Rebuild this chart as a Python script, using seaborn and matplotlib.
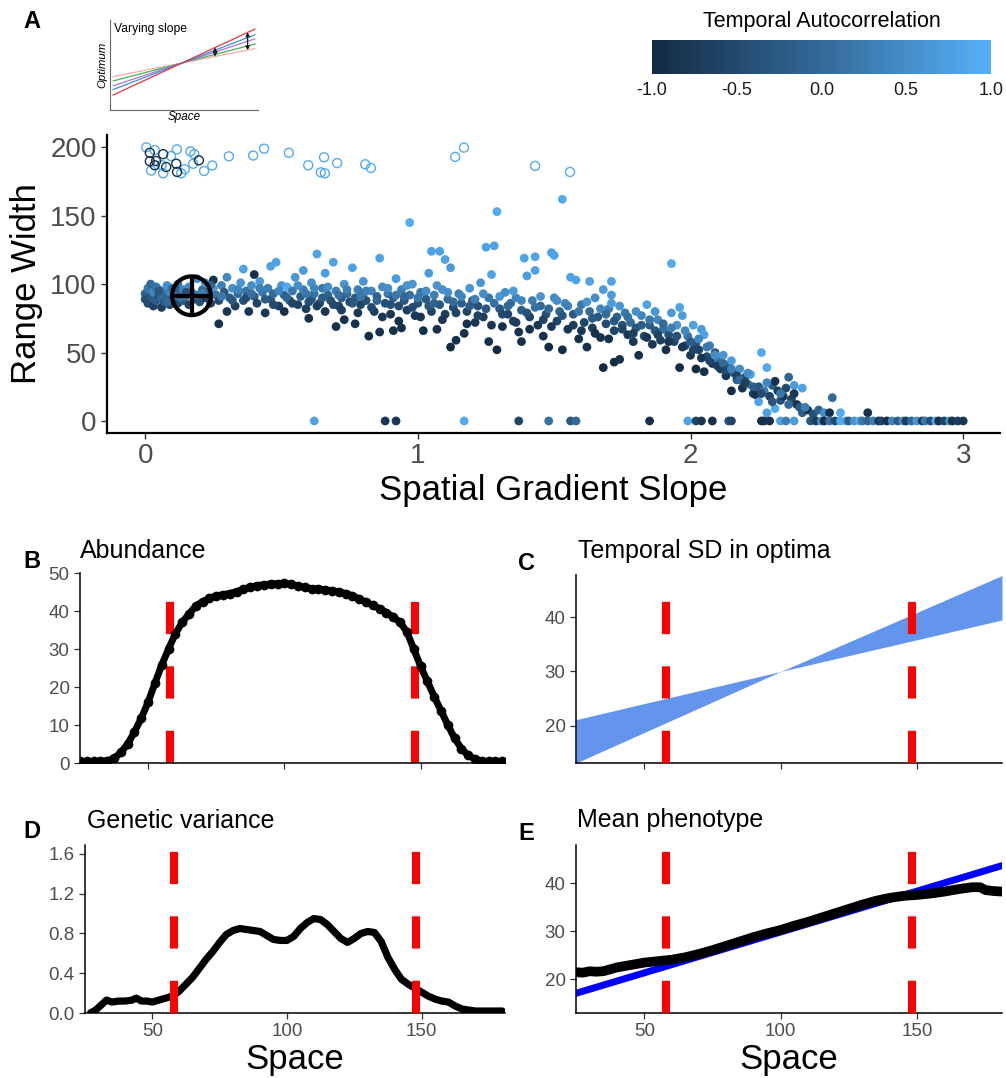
import numpy as np
import pandas as pd
import matplotlib
matplotlib.use("Agg")
import matplotlib.pyplot as plt
from matplotlib.colors import LinearSegmentedColormap, Normalize
from matplotlib.cm import ScalarMappable
import seaborn as sns

sns.set_style("ticks")
plt.rcParams["font.family"] = ["Liberation Sans", "DejaVu Sans"]
plt.rcParams["text.color"] = "black"
plt.rcParams["axes.labelcolor"] = "black"
plt.rcParams["axes.edgecolor"] = "black"

# ---------------- panel A data ----------------
# main cloud, slope 0 - 0.75
slope_1 = [0.00, 0.00, 0.01, 0.01, 0.02, 0.02, 0.03, 0.03, 0.04, 0.04, 0.05, 0.05, 0.06, 0.06, 0.07, 0.07,
           0.08, 0.08, 0.09, 0.09, 0.10, 0.10, 0.11, 0.12, 0.12, 0.13, 0.14, 0.14, 0.15, 0.16, 0.16, 0.17,
           0.18, 0.19, 0.19, 0.20, 0.21, 0.22, 0.22, 0.23, 0.24, 0.25, 0.25, 0.26, 0.27, 0.27, 0.28, 0.29,
           0.30, 0.30, 0.31, 0.32, 0.33, 0.34, 0.35, 0.36, 0.36, 0.37, 0.38, 0.39, 0.40, 0.40, 0.41, 0.42,
           0.43, 0.44, 0.45, 0.46, 0.46, 0.47, 0.48, 0.49, 0.50, 0.51, 0.51, 0.52, 0.53, 0.54, 0.55, 0.56,
           0.57, 0.58, 0.58, 0.59, 0.60, 0.61, 0.61, 0.62, 0.63, 0.64, 0.65, 0.66, 0.66, 0.67, 0.68, 0.69,
           0.70, 0.70, 0.71, 0.72, 0.73, 0.73, 0.74, 0.75]
width_1 = [93, 89, 97, 86, 100, 91, 94, 84, 98, 88, 92, 96, 90, 83, 95, 87,
           99, 91, 85, 94, 97, 89, 92, 86, 100, 93, 88, 96, 91, 85, 98, 94,
           89, 104, 92, 87, 96, 90, 101, 94, 86, 97, 103, 92, 71, 88, 99, 94,
           105, 80, 90, 97, 84, 93, 101, 111, 88, 95, 80, 99, 107, 91, 86, 102,
           94, 79, 97, 113, 89, 93, 116, 84, 99, 80, 92, 98, 88, 95, 105, 85,
           91, 110, 96, 82, 75, 101, 89, 93, 122, 86, 97, 108, 80, 92, 88, 116,
           69, 95, 84, 90, 74, 100, 93, 87]
autocorr_1 = [-0.1, -0.4, 0.2, -0.5, 0.0, -0.3, 0.4, -0.6, 0.1, -0.2, -0.4, 0.3, 0.0, -0.7, 0.2, -0.3,
              0.5, -0.1, -0.6, 0.3, 0.0, -0.4, 0.6, -0.5, 0.2, -0.2, -0.3, 0.4, 0.1, -0.6, 0.5, -0.1,
              -0.5, 0.5, 0.2, -0.4, 0.0, -0.7, 0.6, -0.2, -0.6, 0.7, -0.9, 0.1, -0.9, -0.5, 0.3, -0.3,
              0.4, -0.8, -0.2, 0.5, -0.7, 0.0, 0.6, 0.8, -0.4, 0.1, -0.8, 0.5, -0.9, -0.2, -0.6, 0.7,
              0.2, -0.8, 0.3, 0.8, -0.3, 0.0, 0.8, -0.7, 0.6, -0.9, -0.1, 0.9, -0.4, 0.2, 0.6, -0.6,
              -0.2, 0.7, 0.3, -0.7, -0.9, 0.5, -0.3, 0.1, 0.8, -0.5, 0.2, 0.7, -0.8, -0.1, -0.4, 0.8,
              -0.9, 0.3, -0.6, -0.2, -0.9, 0.6, 0.0, -0.5]

# main cloud, slope 0.75 - 1.55
slope_2 = [0.76, 0.77, 0.77, 0.78, 0.79, 0.80, 0.80, 0.81, 0.82, 0.83, 0.84, 0.85, 0.86, 0.86, 0.87, 0.88,
           0.89, 0.90, 0.91, 0.91, 0.92, 0.93, 0.94, 0.94, 0.95, 0.96, 0.97, 0.97, 0.98, 0.99, 1.00, 1.01,
           1.02, 1.03, 1.04, 1.05, 1.05, 1.06, 1.07, 1.08, 1.08, 1.09, 1.10, 1.10, 1.11, 1.12, 1.12, 1.13,
           1.14, 1.15, 1.16, 1.17, 1.18, 1.19, 1.20, 1.21, 1.22, 1.23, 1.24, 1.25, 1.26, 1.26, 1.27, 1.28,
           1.29, 1.29, 1.30, 1.31, 1.32, 1.33, 1.34, 1.35, 1.36, 1.37, 1.38, 1.38, 1.39, 1.40, 1.41, 1.42,
           1.43, 1.43, 1.44, 1.45, 1.46, 1.47, 1.48, 1.49, 1.50, 1.50, 1.51, 1.52, 1.53, 1.53, 1.54, 1.55]
width_2 = [112, 71, 90, 96, 85, 93, 102, 88, 62, 95, 80, 91, 119, 65, 98, 86,
           93, 78, 66, 90, 104, 84, 68, 96, 88, 81, 145, 92, 100, 77, 86, 94,
           66, 89, 108, 124, 80, 92, 67, 124, 85, 96, 118, 78, 89, 54, 112, 83,
           59, 93, 86, 64, 80, 97, 88, 72, 84, 101, 76, 127, 58, 90, 107, 128,
           52, 153, 82, 69, 94, 78, 86, 73, 90, 65, 58, 81, 119, 106, 76, 88,
           120, 110, 70, 84, 62, 78, 54, 123, 121, 90, 73, 80, 52, 162, 86, 67]
autocorr_2 = [0.8, -0.9, -0.2, 0.3, -0.6, 0.1, 0.6, -0.4, -1.0, 0.4, -0.7, -0.1, 0.8, -0.9, 0.5, -0.4,
              0.2, -0.8, -0.9, -0.1, 0.7, -0.5, -0.9, 0.3, -0.3, -0.7, 0.9, 0.1, 0.6, -0.8, -0.4, 0.2,
              -0.9, -0.2, 0.7, 0.8, -0.6, 0.3, -0.9, 0.8, -0.3, 0.5, 0.8, -0.7, 0.0, -1.0, 0.7, -0.5,
              -0.9, 0.3, -0.2, -0.9, -0.6, 0.6, -0.1, -0.8, -0.4, 0.6, -0.7, 0.8, -0.9, 0.2, 0.8, 0.8,
              -1.0, 0.9, -0.3, -0.9, 0.5, -0.6, 0.0, -0.7, 0.4, -0.9, -0.9, -0.2, 0.8, 0.7, -0.6, 0.3,
              0.8, 0.8, -0.8, 0.0, -0.9, -0.4, -1.0, 0.8, 0.8, 0.5, -0.6, -0.1, -1.0, 0.9, 0.4, -0.8]

# main cloud, slope 1.55 - 2.65
slope_3 = [1.56, 1.57, 1.58, 1.59, 1.60, 1.61, 1.62, 1.63, 1.63, 1.64, 1.65, 1.66, 1.67, 1.68, 1.68, 1.69,
           1.70, 1.71, 1.71, 1.71, 1.72, 1.72, 1.73, 1.74, 1.75, 1.76, 1.77, 1.78, 1.79, 1.80, 1.81, 1.82,
           1.83, 1.84, 1.85, 1.86, 1.87, 1.88, 1.89, 1.90, 1.91, 1.92, 1.93, 1.93, 1.94, 1.95, 1.96, 1.96,
           1.97, 1.98, 1.99, 2.00, 2.01, 2.02, 2.02, 2.03, 2.04, 2.05, 2.05, 2.06, 2.07, 2.08, 2.09, 2.10,
           2.11, 2.12, 2.13, 2.14, 2.15, 2.15, 2.16, 2.17, 2.18, 2.19, 2.20, 2.21, 2.22, 2.23, 2.24, 2.25,
           2.25, 2.26, 2.27, 2.28, 2.28, 2.29, 2.30, 2.31, 2.31, 2.32, 2.33, 2.34, 2.35, 2.36, 2.37, 2.38,
           2.39, 2.40, 2.41, 2.41, 2.43, 2.45, 2.47, 2.49, 2.51, 2.52, 2.55, 2.65]
width_3 = [105, 78, 103, 60, 85, 72, 54, 102, 80, 68, 90, 76, 61, 96, 39, 71,
           82, 102, 92, 86, 43, 66, 76, 45, 70, 79, 63, 72, 58, 68, 48, 77,
           62, 85, 70, 56, 66, 74, 59, 67, 52, 63, 115, 79, 58, 70, 39, 83,
           77, 55, 62, 48, 70, 38, 57, 52, 67, 36, 63, 47, 55, 42, 50, 45,
           38, 48, 33, 40, 22, 44, 35, 30, 38, 24, 32, 27, 34, 20, 19, 25,
           14, 50, 22, 39, 6, 18, 26, 9, 29, 22, 15, 18, 24, 32, 16, 26,
           12, 10, 24, 6, 8, 5, 8, 6, 6, 17, 6, 6]
autocorr_3 = [0.8, -0.3, 0.8, -0.9, 0.2, -0.6, -0.9, 0.8, 0.0, -0.7, 0.5, -0.3, -0.9, 0.7, -1.0, -0.5,
              0.3, 0.8, 0.7, 0.7, -1.0, -0.6, -0.1, -0.9, -0.4, 0.2, -0.8, 0.0, -0.8, -0.3, -0.9, 0.4,
              -0.5, 0.8, -0.2, -0.8, -0.3, 0.4, -0.7, 0.1, -0.9, -0.4, 0.9, 0.7, -0.6, 0.6, -1.0, 0.8,
              0.7, -0.5, 0.2, -0.8, 0.8, -1.0, -0.3, -0.6, 0.7, -0.9, 0.8, -0.5, 0.3, -0.8, -0.2, 0.1,
              -0.7, 0.6, -0.8, -0.3, -1.0, 0.7, -0.5, -0.2, 0.5, -0.9, -0.4, 0.1, 0.8, -0.7, -0.9, -0.3,
              0.8, 0.9, 0.2, 0.9, 0.8, -0.6, -0.2, 0.9, -0.9, -0.7, -0.4, -0.8, -0.5, -0.1, -0.6, 0.7,
              -0.9, -0.3, 0.8, -0.2, -0.9, -0.4, -0.1, 0.5, -0.9, 0.0, 0.9, -0.9]

# denser middle of the cloud
slope_4 = [0.05, 0.08, 0.11, 0.13, 0.15, 0.21, 0.24, 0.28, 0.32, 0.34, 0.37, 0.39, 0.42, 0.44, 0.47, 0.49,
           0.52, 0.54, 0.56, 0.59, 0.60, 0.62, 0.63, 0.65, 0.67, 0.69, 0.71, 0.72, 0.74, 0.76, 0.78, 0.79,
           0.81, 0.83, 0.85, 0.87, 0.89, 0.90, 0.92, 0.93, 0.95, 0.96, 0.98, 1.00, 1.01, 1.03, 1.04, 1.06,
           1.07, 1.09, 1.11, 1.13, 1.14, 1.16, 1.18, 1.19, 1.21, 1.22, 1.24, 1.25, 1.27, 1.28, 1.30, 1.31,
           1.33, 1.35, 1.36, 1.38, 1.40, 1.41, 1.43, 1.45, 1.46, 1.48, 1.49, 1.51, 1.53, 1.55, 1.57, 1.59,
           1.60, 1.62, 1.64, 1.65, 1.67, 1.69, 1.70, 1.72, 1.74, 1.75, 1.77, 1.79, 1.80, 1.82, 1.84, 1.85,
           1.87, 1.88, 1.90, 1.92, 1.93, 1.95, 1.97, 1.98, 2.00, 2.01, 2.03, 2.04, 2.06, 2.07, 2.09, 2.10,
           2.12, 2.13, 2.15, 2.17, 2.18, 2.20, 2.21, 2.23, 2.26, 2.28, 2.30, 2.33, 2.36, 2.38, 2.42]
width_4 = [95, 87, 97, 90, 94, 93, 99, 91, 88, 96, 90, 93, 97, 89, 85, 95,
           90, 86, 99, 93, 87, 97, 84, 90, 98, 85, 92, 81, 96, 86, 79, 91,
           95, 83, 88, 76, 97, 85, 92, 73, 91, 99, 83, 90, 76, 95, 84, 86,
           99, 74, 94, 87, 79, 91, 71, 84, 89, 77, 93, 82, 70, 86, 91, 78,
           84, 95, 72, 88, 79, 67, 83, 91, 74, 82, 69, 88, 77, 84, 70, 80,
           66, 87, 75, 64, 82, 78, 60, 73, 84, 67, 76, 64, 80, 70, 61, 74,
           80, 63, 71, 58, 68, 62, 54, 66, 58, 52, 60, 46, 54, 44, 48, 40,
           42, 37, 38, 33, 30, 28, 35, 25, 20, 28, 14, 20, 12, 20, 10]
autocorr_4 = [-0.3, 0.0, -0.2, 0.1, -0.4, 0.3, -0.1, 0.2, -0.3, 0.4, -0.5, 0.1, 0.3, -0.2, -0.5, 0.4,
              -0.1, -0.6, 0.5, 0.2, -0.4, 0.4, -0.7, -0.2, 0.5, -0.5, 0.1, -0.7, 0.3, -0.3, -0.8, 0.2,
              0.3, -0.5, -0.1, -0.8, 0.5, -0.4, 0.2, -0.9, 0.0, 0.6, -0.5, 0.2, -0.8, 0.5, -0.3, -0.1,
              0.6, -0.8, 0.5, 0.0, -0.6, 0.4, -0.9, -0.2, 0.3, -0.6, 0.5, -0.3, -0.8, 0.1, 0.6, -0.5,
              0.0, 0.7, -0.7, 0.4, -0.4, -0.9, 0.1, 0.6, -0.6, 0.0, -0.8, 0.5, -0.3, 0.3, -0.7, 0.2,
              -0.8, 0.6, -0.2, -0.9, 0.4, 0.0, -0.9, -0.3, 0.6, -0.6, 0.1, -0.7, 0.5, -0.2, -0.8, 0.2,
              0.6, -0.6, 0.0, -0.8, 0.3, -0.4, -0.8, 0.4, -0.2, -0.6, 0.4, -0.8, 0.2, -0.6, 0.5, -0.7,
              0.0, -0.5, 0.3, -0.6, 0.0, -0.7, 0.5, -0.2, -0.5, 0.4, -0.3, 0.2, 0.0, -0.8, 0.3]

# populations that went extinct (range width 0)
zero_slope = [0.62, 0.88, 0.92, 1.17, 1.37, 1.48, 1.56, 1.58, 1.85, 1.99, 2.02, 2.04, 2.08, 2.14, 2.15,
              2.26, 2.27, 2.29, 2.33, 2.35, 2.38, 2.44, 2.46, 2.48, 2.49, 2.51, 2.53, 2.55, 2.57, 2.58,
              2.60, 2.62, 2.63, 2.65, 2.67, 2.69, 2.70, 2.72, 2.74, 2.76, 2.78, 2.79, 2.81, 2.83, 2.85,
              2.86, 2.88, 2.90, 2.91, 2.93, 2.95, 2.96, 2.98, 3.00]
zero_autocorr = [0.8, -0.8, -0.8, 0.9, -0.6, 0.1, -0.3, 0.0, -0.9, 0.8, -0.6, -0.8, -0.9, -0.4, -0.6,
                 -0.9, -0.9, -0.9, 0.8, 0.3, 0.7, -0.3, -0.7, 0.5, -0.9, 0.1, -0.5, 0.9, 0.8, -0.2,
                 0.6, 0.9, 0.2, -0.1, 0.3, -0.8, -0.6, -0.9, 0.4, -0.2, 0.5, -0.7, 0.0, 0.6, -0.8,
                 0.2, -0.4, 0.9, -0.9, -0.6, 0.5, -0.9, -0.7, -0.8]

# ranges that filled the whole landscape (open circles)
open_slope = [0.004, 0.035, 0.116, 0.166, 0.18, 0.095, 0.022, 0.06, 0.066, 0.132, 0.145, 0.176, 0.216,
              0.246, 0.307, 0.396, 0.436, 0.527, 0.598, 0.656, 0.704, 0.644, 0.659, 0.807, 0.828, 1.137,
              1.169, 1.43, 1.558,
              0.017, 0.066, 0.197, 0.017, 0.04, 0.035, 0.077, 0.114, 0.117]
open_width = [200, 198, 198.5, 197, 195, 193.6, 183, 187, 181, 181, 184, 188, 182.7,
              186.7, 193.4, 194, 199, 196, 186.9, 192.7, 188.5, 181.7, 181, 187.6, 184.9, 193,
              199.8, 186.4, 182,
              196, 195, 190.5, 189.8, 190, 186.9, 185.6, 188, 182]
open_autocorr = [0.9] * 29 + [-0.9] * 9

# scenario shown in panels B-E
ref_slope = [0.17]
ref_width = [91.5]

# ---------------- panels B-E data ----------------
vline_space = [58, 148]

space_b = [25, 27.5, 30, 32.5, 35, 37.5, 40, 42.5, 45, 47.5, 50, 52.5, 55, 57.5, 60, 62.5, 65, 67.5,
           70, 72.5, 75, 77.5, 80, 82.5, 85, 87.5, 90, 92.5, 95, 97.5, 100, 102.5, 105, 107.5, 110,
           112.5, 115, 117.5, 120, 122.5, 125, 127.5, 130, 132.5, 135, 137.5, 140, 142.5, 145, 147.5,
           150, 152.5, 155, 157.5, 160, 162.5, 165, 167.5, 170, 172.5, 175, 177.5, 180]
abundance = [0.4, 0.4, 0.4, 0.5, 0.6, 1.2, 2.8, 5.0, 8.2, 11.8, 16.0, 21.0, 25.8, 30.0, 34.0, 37.0,
             39.2, 41.3, 42.5, 43.3, 44.0, 44.3, 44.6, 45.1, 45.7, 46.3, 46.7, 46.9, 47.1, 47.2, 47.3,
             47.0, 46.6, 46.2, 45.9, 45.8, 45.6, 45.3, 45.1, 44.6, 44.0, 43.2, 42.3, 41.5, 40.6, 39.6,
             38.4, 37.0, 34.5, 30.0, 25.5, 21.5, 17.5, 13.8, 10.0, 6.5, 3.8, 2.0, 1.0, 0.5, 0.4, 0.4, 0.4]

space_c = [25, 100, 181]
sd_lower = [13.1, 30.0, 39.5]
sd_upper = [21.1, 30.0, 47.7]

space_d = [27, 29, 31, 33, 35, 37.5, 40, 42.5, 44, 46, 48, 50, 52.5, 55, 57.5, 60, 62.5, 65, 67.5, 70,
           72.5, 75, 77.5, 80, 82.5, 85, 87.5, 90, 92.5, 95, 97.5, 100, 102.5, 105, 107.5, 110, 112.5,
           115, 117.5, 120, 122.5, 125, 127.5, 130, 132.5, 135, 137.5, 140, 142.5, 145, 147.5, 150,
           152.5, 155, 157.5, 160, 162.5, 165, 167.5, 170, 175, 180]
gen_var = [0.0, 0.03, 0.08, 0.13, 0.11, 0.12, 0.12, 0.13, 0.15, 0.12, 0.12, 0.11, 0.13, 0.15, 0.17,
           0.22, 0.29, 0.36, 0.45, 0.54, 0.62, 0.71, 0.79, 0.83, 0.85, 0.84, 0.83, 0.82, 0.78, 0.74,
           0.73, 0.73, 0.77, 0.85, 0.91, 0.95, 0.94, 0.89, 0.82, 0.75, 0.71, 0.75, 0.80, 0.82, 0.81,
           0.72, 0.56, 0.44, 0.34, 0.29, 0.25, 0.21, 0.17, 0.14, 0.12, 0.11, 0.07, 0.04, 0.03, 0.02,
           0.02, 0.02]

space_e = [25, 27.5, 30, 32.5, 35, 37.5, 40, 45, 50, 55, 60, 65, 70, 75, 80, 85, 90, 95, 100, 105,
           110, 115, 120, 125, 130, 135, 140, 145, 150, 155, 160, 165, 170, 173, 175, 178, 181]
mean_pheno = [21.5, 21.4, 21.7, 21.6, 21.7, 22.1, 22.5, 23.0, 23.5, 23.8, 24.1, 24.6, 25.3, 26.1, 27.0,
              27.9, 28.8, 29.6, 30.3, 31.2, 32.0, 32.9, 33.8, 34.7, 35.6, 36.4, 37.0, 37.4, 37.6, 37.9,
              38.3, 38.8, 39.2, 39.2, 38.6, 38.4, 38.3]
space_opt = [25, 181]
optimum = [17.1, 43.7]

# inset schematic: relative slopes of the optimum lines
inset_slopes = [0.324, 0.428, 0.544, 0.636, 0.765]
inset_colors = ["#F6AAAA", "#4CAF50", "#A678D8", "#3D8FD9", "#E8333C"]

# ---------------- figure ----------------
cmap = LinearSegmentedColormap.from_list("gg", ["#132B43", "#336A98", "#56B1F7"])
norm = Normalize(-1, 1)

df = pd.DataFrame({
    "slope": slope_1 + slope_2 + slope_3 + slope_4 + zero_slope,
    "width": width_1 + width_2 + width_3 + width_4 + [0] * len(zero_slope),
    "autocorr": autocorr_1 + autocorr_2 + autocorr_3 + autocorr_4 + zero_autocorr,
})

fig = plt.figure(figsize=(10.06, 10.78), dpi=100)

def px_axes(l, t, r, b):
    return fig.add_axes([l / 1006, 1 - b / 1078, (r - l) / 1006, (b - t) / 1078])

grey = "#4D4D4D"

# panel A
axA = px_axes(107, 135, 1000, 433)
sns.scatterplot(data=df, x="slope", y="width", hue="autocorr", palette=cmap, hue_norm=norm,
                s=40, linewidth=0, legend=False, ax=axA)
axA.scatter(open_slope, open_width, facecolors="none", edgecolors=cmap(norm(np.array(open_autocorr))),
            s=42, linewidths=1.0)
axA.scatter(ref_slope, ref_width, s=780, facecolors="none", edgecolors="black", linewidths=3.0)
axA.scatter(ref_slope, ref_width, s=780, marker="+", color="black", linewidths=3.0)
axA.set_xlim(-0.14, 3.135)
axA.set_ylim(-8.8, 209)
axA.set_xticks([0, 1, 2, 3])
axA.set_yticks([0, 50, 100, 150, 200])
axA.tick_params(labelsize=20, labelcolor=grey, length=4, width=1, color="#333333")
axA.set_xlabel("Spatial Gradient Slope", fontsize=25, labelpad=3)
axA.set_ylabel("Range Width", fontsize=25, labelpad=5)
for s in ["left", "bottom"]:
    axA.spines[s].set_linewidth(1.6)
sns.despine(ax=axA)

# colorbar
cax = px_axes(652, 40, 991, 74)
sm = ScalarMappable(norm=norm, cmap=cmap)
cb = fig.colorbar(sm, cax=cax, orientation="horizontal")
cb.outline.set_visible(False)
cax.set_xticks([-1, -0.5, 0, 0.5, 1])
cax.set_xticklabels(["-1.0", "-0.5", "0.0", "0.5", "1.0"])
cax.xaxis.set_ticks_position("both")
cax.tick_params(axis="x", direction="in", length=6, width=0.8, color="white",
                labelsize=13, labelcolor="#1A1A1A", labelbottom=True, labeltop=False, pad=6)
cax.set_title("Temporal Autocorrelation", fontsize=15.5, pad=9)

# inset schematic
axI = px_axes(110, 20, 258, 110)
xs = np.array([0.02, 0.98])
for sl, col in zip(inset_slopes, inset_colors):
    axI.plot(xs, 0.522 + sl * (xs - 0.486), color=col, lw=0.9)
for xa in [0.93, 0.71]:
    axI.annotate("", xy=(xa, 0.522 + inset_slopes[-1] * (xa - 0.486)),
                 xytext=(xa, 0.522 + inset_slopes[0] * (xa - 0.486)),
                 arrowprops=dict(arrowstyle="<->", color="black", lw=0.8, mutation_scale=6,
                                 shrinkA=0, shrinkB=0))
axI.set_xlim(0, 1)
axI.set_ylim(0, 1)
axI.set_xticks([])
axI.set_yticks([])
axI.text(0.03, 0.97, "Varying slope", fontsize=8.7, va="top", ha="left")
axI.set_xlabel("Space", fontsize=8.4, style="italic", labelpad=1)
axI.set_ylabel("Optimum", fontsize=8.2, style="italic", labelpad=2)
for s in ["left", "bottom"]:
    axI.spines[s].set_color("#666666")
    axI.spines[s].set_linewidth(0.8)
sns.despine(ax=axI)

# panels B-E
axB = px_axes(80, 573, 505, 763)
axC = px_axes(576, 575, 1002, 763)
axD = px_axes(85, 845, 505, 1013)
axE = px_axes(576, 845, 1002, 1013)


def vlines(ax, z):
    for v in vline_space:
        ax.axvline(v, color="red", lw=5.8, dashes=(4, 4), zorder=z)


vlines(axB, 1)
sns.lineplot(x=space_b, y=abundance, ax=axB, color="black", lw=5, marker="o", markersize=7,
             markeredgewidth=0, zorder=2)
axB.set_ylim(0, 50)
axB.set_yticks([0, 10, 20, 30, 40, 50])

axC.fill_between(space_c, sd_lower, sd_upper, color="#6495ED", lw=0)
vlines(axC, 3)
axC.set_ylim(13.1, 47.8)
axC.set_yticks([20, 30, 40])

sns.lineplot(x=space_d, y=gen_var, ax=axD, color="black", lw=5.2, zorder=2)
vlines(axD, 3)
axD.set_ylim(0, 1.69)
axD.set_yticks([0, 0.4, 0.8, 1.2, 1.6])
axD.set_yticklabels(["0.0", "0.4", "0.8", "1.2", "1.6"])

sns.lineplot(x=space_opt, y=optimum, ax=axE, color="#0000FF", lw=5, zorder=2)
sns.lineplot(x=space_e, y=mean_pheno, ax=axE, color="black", lw=7, zorder=2.5)
vlines(axE, 3)
axE.set_ylim(13, 48)
axE.set_yticks([20, 30, 40])

for ax in [axB, axC, axD, axE]:
    ax.set_xlim(25, 181)
    ax.set_xticks([50, 100, 150])
    ax.tick_params(labelsize=13.5, labelcolor=grey, length=4, width=0.9, color="#333333")
    for s in ["left", "bottom"]:
        ax.spines[s].set_linewidth(1.1)
    ax.set_xlabel("")
    ax.set_ylabel("")
    sns.despine(ax=ax)
for ax in [axB, axC]:
    ax.set_xticklabels([])
for ax in [axD, axE]:
    ax.set_xlabel("Space", fontsize=25, labelpad=2)

# titles and panel letters
fig.text(80 / 1006, 1 - 558 / 1078, "Abundance", fontsize=18, va="baseline")
fig.text(578 / 1006, 1 - 558 / 1078, "Temporal SD in optima", fontsize=18, va="baseline")
fig.text(87 / 1006, 1 - 828 / 1078, "Genetic variance", fontsize=18, va="baseline")
fig.text(577 / 1006, 1 - 827 / 1078, "Mean phenotype", fontsize=18, va="baseline")
for letter, x, y in [("A", 23, 28), ("B", 23, 568), ("C", 518, 570), ("D", 23, 838), ("E", 518, 840)]:
    fig.text(x / 1006, 1 - y / 1078, letter, fontsize=17, fontweight="bold", va="baseline")

fig.savefig("out.png", dpi=100)
